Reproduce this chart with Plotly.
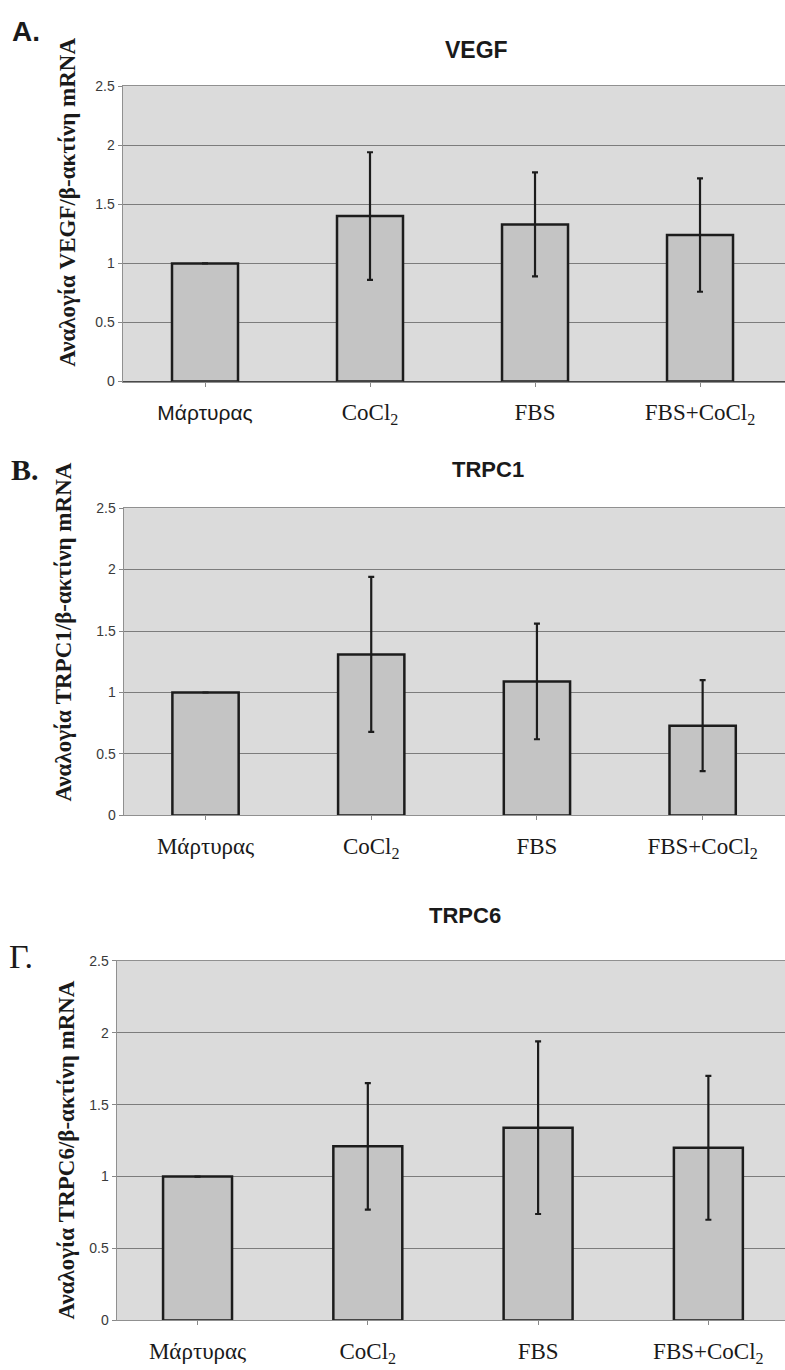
import plotly.graph_objects as go

# ---- data ----
categories = ["Μάρτυρας", "CoCl<sub>2</sub>", "FBS", "FBS+CoCl<sub>2</sub>"]
vegf = [1.00, 1.40, 1.33, 1.24]
vegf_err = [None, 0.54, 0.44, 0.48]
trpc1 = [1.00, 1.31, 1.09, 0.73]
trpc1_err = [None, 0.63, 0.47, 0.37]
trpc6 = [1.00, 1.21, 1.34, 1.20]
trpc6_err = [None, 0.44, 0.60, 0.50]
y_ticks = [0, 0.5, 1, 1.5, 2, 2.5]
y_ticktext = ["0", "0.5", "1", "1.5", "2", "2.5"]

W, H = 785, 1370
SANS = "Liberation Sans, Arial, sans-serif"
SERIF = "Liberation Serif, Times New Roman, serif"
PLOT_BG = "#dbdbdb"
BAR_FILL = "#c4c4c4"
GRID = "#7c7c7c"

fig = go.Figure()

xpos = [0, 1, 2, 3]
ticktext_a = ['<span style="font-family:Liberation Sans, Arial, sans-serif;font-size:21px">'
              + categories[0] + '</span>'] + categories[1:]

panels = [
    dict(vals=vegf, err=vegf_err, xdom=[123 / W, 1], xr=[-0.497, 3.515],
         ydom=[1 - 378 / H, 1 - 79 / H], width=0.40, ticktext=ticktext_a),
    dict(vals=trpc1, err=trpc1_err, xdom=[124 / W, 1], xr=[-0.492, 3.497],
         ydom=[1 - 817 / H, 1 - 506 / H], width=0.40, ticktext=categories),
    dict(vals=trpc6, err=trpc6_err, xdom=[117 / W, 1], xr=[-0.473, 3.45],
         ydom=[1 - 1328 / H, 1 - 964 / H], width=0.405, ticktext=categories),
]

layout_axes = {}
for i, p in enumerate(panels):
    n = "" if i == 0 else str(i + 1)
    fig.add_trace(go.Bar(
        x=xpos, y=p["vals"], width=p["width"],
        marker=dict(color=BAR_FILL, line=dict(color="#1c1c1c", width=2.5)),
        error_y=dict(type="data", array=p["err"], visible=True,
                     color="#1c1c1c", thickness=2.2, width=3),
        xaxis="x" + n, yaxis="y" + n, showlegend=False, hoverinfo="skip",
    ))
    layout_axes["xaxis" + n] = dict(
        domain=p["xdom"], range=p["xr"], anchor="y" + n,
        tickvals=xpos, ticktext=p["ticktext"],
        tickfont=dict(family=SERIF, size=23, color="#1a1a1a"),
        ticks="outside", ticklen=4, tickcolor="#888", tickson="boundaries",
        ticklabelstandoff=6,
        showgrid=False, showline=True, linecolor="#909090", linewidth=1,
        mirror=True, zeroline=False, fixedrange=True,
    )
    layout_axes["yaxis" + n] = dict(
        domain=p["ydom"], range=[0, 2.5], anchor="x" + n,
        tickvals=y_ticks, ticktext=y_ticktext,
        tickfont=dict(family=SANS, size=14, color="#3a3a3a"),
        ticks="outside", ticklen=4, tickcolor="#888",
        showgrid=True, gridcolor=GRID, gridwidth=1,
        showline=True, linecolor="#909090", linewidth=1.5,
        zeroline=True, zerolinecolor="#4a4a4a", zerolinewidth=1.5,
        fixedrange=True,
    )

annotations = [
    # panel letters
    dict(text="<b>A.</b>", x=10 / W, y=1 - 24 / H, xanchor="left", yanchor="middle",
         font=dict(family=SANS, size=28, color="#1a1a1a")),
    dict(text="<b>B.</b>", x=9 / W, y=1 - 467 / H, xanchor="left", yanchor="middle",
         font=dict(family=SERIF, size=30, color="#1a1a1a")),
    dict(text="Γ.", x=7 / W, y=1 - 960 / H, xanchor="left", yanchor="middle",
         font=dict(family=SERIF, size=34, color="#1a1a1a")),
    # chart titles
    dict(text="<b>VEGF</b>", x=476 / W, y=1 - 43 / H, xanchor="center", yanchor="middle",
         font=dict(family=SANS, size=23, color="#1a1a1a")),
    dict(text="<b>TRPC1</b>", x=488 / W, y=1 - 467 / H, xanchor="center", yanchor="middle",
         font=dict(family=SANS, size=22, color="#1a1a1a")),
    dict(text="<b>TRPC6</b>", x=465 / W, y=1 - 918 / H, xanchor="center", yanchor="middle",
         font=dict(family=SANS, size=22, color="#1a1a1a")),
    # y-axis titles
    dict(text="<b>Αναλογία VEGF/β-ακτίνη mRNA</b>", x=68 / W, y=1 - 197 / H, textangle=-90,
         xanchor="center", yanchor="middle", font=dict(family=SERIF, size=23, color="#1a1a1a")),
    dict(text="<b>Αναλογία TRPC1/β-ακτίνη mRNA</b>", x=64 / W, y=1 - 632 / H, textangle=-90,
         xanchor="center", yanchor="middle", font=dict(family=SERIF, size=23, color="#1a1a1a")),
    dict(text="<b>Αναλογία TRPC6/β-ακτίνη mRNA</b>", x=66 / W, y=1 - 1156 / H, textangle=-90,
         xanchor="center", yanchor="middle", font=dict(family=SERIF, size=23, color="#1a1a1a")),
]
for a in annotations:
    a.update(xref="paper", yref="paper", showarrow=False)

fig.update_layout(
    width=W, height=H,
    margin=dict(l=0, r=0, t=0, b=0),
    paper_bgcolor="white", plot_bgcolor=PLOT_BG,
    annotations=annotations,
    hovermode=False,
    **layout_axes,
)

fig.write_html(
    "out.html",
    config={"displayModeBar": False, "staticPlot": True},
    post_script="document.body.style.margin='0';document.body.style.overflow='hidden';",
)
